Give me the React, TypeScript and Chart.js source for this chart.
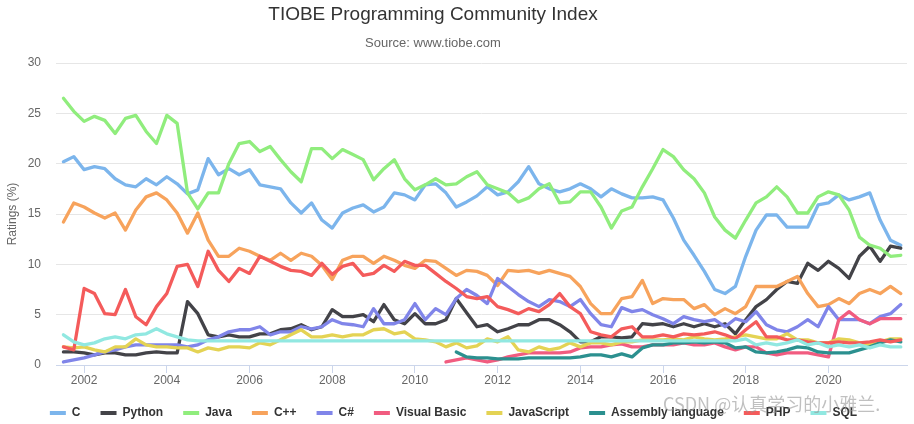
import React, { useEffect, useRef } from "react";
import { Chart, registerables, ChartConfiguration, Plugin } from "chart.js";

Chart.register(...registerables);
Chart.defaults.font.family = '"Liberation Sans", Arial, sans-serif';

const titleText = "TIOBE Programming Community Index";
const subtitleText = "Source: www.tiobe.com";
const watermarkText = "CSDN @认真学习的小雅兰.";

// quarterly sample dates (decimal years)
const quarters = [
  2001.5, 2001.75,
  2002, 2002.25, 2002.5, 2002.75,
  2003, 2003.25, 2003.5, 2003.75,
  2004, 2004.25, 2004.5, 2004.75,
  2005, 2005.25, 2005.5, 2005.75,
  2006, 2006.25, 2006.5, 2006.75,
  2007, 2007.25, 2007.5, 2007.75,
  2008, 2008.25, 2008.5, 2008.75,
  2009, 2009.25, 2009.5, 2009.75,
  2010, 2010.25, 2010.5, 2010.75,
  2011, 2011.25, 2011.5, 2011.75,
  2012, 2012.25, 2012.5, 2012.75,
  2013, 2013.25, 2013.5, 2013.75,
  2014, 2014.25, 2014.5, 2014.75,
  2015, 2015.25, 2015.5, 2015.75,
  2016, 2016.25, 2016.5, 2016.75,
  2017, 2017.25, 2017.5, 2017.75,
  2018, 2018.25, 2018.5, 2018.75,
  2019, 2019.25, 2019.5, 2019.75,
  2020, 2020.25, 2020.5, 2020.75,
  2021, 2021.25, 2021.5, 2021.75,
];

const xTicks = [2002, 2004, 2006, 2008, 2010, 2012, 2014, 2016, 2018, 2020];
const yTicks = [0, 5, 10, 15, 20, 25, 30];

const cValues = [
  20.2, 20.7,
  19.4, 19.7, 19.5, 18.5,
  17.9, 17.7, 18.5, 17.9,
  18.7, 18.0, 17.0, 17.4,
  20.5, 18.9, 19.5, 18.9,
  19.4, 17.9, 17.7, 17.5,
  16.1, 15.1, 16.1, 14.4,
  13.6, 15.1, 15.6, 15.9,
  15.2, 15.7, 17.1, 16.9,
  16.4, 17.9, 18.0, 17.1,
  15.7, 16.2, 16.8, 17.7,
  16.9, 17.2, 18.2, 19.7,
  18.0, 17.5, 17.2, 17.5,
  18.0, 17.5, 16.7, 17.5,
  17.0, 16.6, 16.6, 16.7,
  16.4, 14.6, 12.4, 10.9,
  9.3, 7.5, 7.1, 7.8,
  10.8, 13.4, 14.9, 14.9,
  13.7, 13.7, 13.7, 15.9,
  16.1, 16.9, 16.4, 16.7,
  17.1, 14.4, 12.4, 11.9,
];

const pythonValues = [
  1.3, 1.3,
  1.2, 1.0, 1.2, 1.2,
  1.0, 1.0, 1.2, 1.3,
  1.2, 1.2, 6.3, 5.1,
  3.0, 2.8, 3.0, 2.8,
  2.8, 3.1, 3.1, 3.5,
  3.6, 4.0, 3.5, 3.8,
  5.5, 4.8, 4.8, 5.0,
  4.3, 6.0, 4.5, 4.1,
  5.1, 4.1, 4.1, 4.5,
  6.6, 5.2, 3.8, 4.0,
  3.3, 3.6, 4.0, 4.0,
  4.5, 4.5, 4.0, 3.3,
  2.3, 2.3, 2.8, 2.8,
  2.7, 2.8, 4.1, 4.0,
  4.1, 3.8, 4.1, 3.8,
  4.1, 3.8, 4.1, 3.1,
  4.5, 5.8, 6.5, 7.5,
  8.3, 8.1, 10.1, 9.4,
  10.3, 9.6, 8.6, 10.8,
  11.8, 10.3, 11.8, 11.6,
];

const javaValues = [
  26.5, 25.2,
  24.2, 24.7, 24.3, 23.0,
  24.5, 24.8, 23.2, 22.0,
  24.8, 24.0, 17.1, 15.5,
  17.1, 17.1, 20.0, 22.0,
  22.2, 21.2, 21.7, 20.4,
  19.2, 18.2, 21.5, 21.5,
  20.5, 21.4, 20.9, 20.4,
  18.4, 19.5, 20.4, 18.5,
  17.4, 17.9, 18.5, 17.9,
  18.0, 18.7, 19.2, 17.9,
  17.5, 17.1, 16.2, 16.6,
  17.5, 18.0, 16.1, 16.2,
  17.2, 17.2, 15.7, 13.6,
  15.3, 15.7, 17.7, 19.5,
  21.4, 20.7, 19.4, 18.5,
  17.1, 14.7, 13.4, 12.6,
  14.4, 16.1, 16.7, 17.7,
  16.7, 15.1, 15.1, 16.7,
  17.2, 16.9, 15.4, 12.7,
  11.9, 11.6, 10.8, 10.9,
];

const cppValues = [
  14.2, 16.1,
  15.7, 15.1, 14.6, 15.1,
  13.4, 15.4, 16.7, 17.1,
  16.4, 15.1, 13.1, 15.1,
  12.4, 10.8, 10.8, 11.6,
  11.3, 10.8, 10.4, 11.1,
  10.4, 11.1, 10.8, 9.9,
  8.5, 10.4, 10.8, 10.8,
  10.1, 10.8, 10.4, 9.9,
  9.6, 10.4, 10.3, 9.6,
  8.9, 9.4, 9.3, 8.9,
  7.9, 9.4, 9.3, 9.4,
  9.1, 9.4, 9.1, 8.8,
  7.8, 6.1, 5.1, 5.1,
  6.6, 6.8, 8.4, 6.1,
  6.6, 6.5, 6.5, 5.6,
  6.0, 5.0, 5.6, 5.1,
  5.8, 7.8, 7.8, 7.8,
  8.3, 8.8, 7.1, 5.8,
  6.0, 6.6, 6.1, 7.1,
  7.5, 7.1, 7.8, 7.1,
];

const csharpValues = [
  0.3, 0.5,
  0.7, 1.0, 1.3, 1.5,
  1.8, 2.0, 2.0, 2.0,
  2.0, 2.0, 1.8, 2.0,
  2.5, 2.8, 3.3, 3.5,
  3.5, 3.8, 3.0, 3.3,
  3.3, 3.8, 3.6, 3.8,
  4.5, 4.1, 4.0, 3.8,
  5.6, 4.1, 4.1, 4.5,
  6.1, 4.5, 5.6, 5.0,
  6.6, 7.5, 6.9, 6.1,
  8.6, 7.8, 7.0, 6.3,
  5.8, 6.5, 6.3, 5.8,
  6.5, 5.1, 4.0, 3.8,
  5.7, 5.3, 5.5, 5.0,
  4.6, 4.1, 4.8, 4.5,
  4.3, 4.5, 3.8, 4.6,
  4.3, 5.3, 4.0, 3.5,
  3.3, 3.8, 4.5, 3.8,
  5.8, 4.5, 4.5, 4.5,
  4.1, 4.8, 5.1, 6.0,
];

const vbValues = [
  null, null,
  null, null, null, null,
  null, null, null, null,
  null, null, null, null,
  null, null, null, null,
  null, null, null, null,
  null, null, null, null,
  null, null, null, null,
  null, null, null, null,
  null, null, null, 0.3,
  0.5, 0.7, 0.5, 0.3,
  0.5, 0.8, 1.0, 1.2,
  1.2, 1.2, 1.2, 1.3,
  1.7, 1.8, 1.8, 2.0,
  2.1, 1.8, 1.8, 2.0,
  2.0, 2.0, 2.2, 2.0,
  2.0, 2.2, 1.8, 1.5,
  1.8, 1.8, 1.2, 1.0,
  1.2, 1.2, 1.2, 1.0,
  0.8, 4.5, 5.3, 4.5,
  4.1, 4.6, 4.6, 4.6,
];

const jsValues = [
  1.8, 1.7,
  1.8, 1.5, 1.3, 1.8,
  1.8, 2.6, 2.0, 1.8,
  1.8, 1.7, 1.7, 1.3,
  1.7, 1.5, 1.8, 1.8,
  1.7, 2.2, 2.0, 2.5,
  3.0, 3.5, 2.8, 2.8,
  3.0, 2.8, 3.0, 3.0,
  3.5, 3.6, 3.1, 3.3,
  2.6, 2.5, 2.3, 1.8,
  2.2, 1.7, 1.9, 2.6,
  2.3, 2.8, 1.5, 1.3,
  1.8, 1.5, 1.7, 2.2,
  1.8, 2.2, 2.2, 2.0,
  2.3, 2.3, 2.5, 2.5,
  2.5, 2.6, 2.5, 2.8,
  2.6, 2.5, 2.6, 2.8,
  3.0, 2.8, 2.6, 2.6,
  3.1, 2.5, 2.5, 2.2,
  2.2, 2.6, 2.5, 2.2,
  2.0, 2.3, 2.6, 2.6,
];

const asmValues = [
  null, null,
  null, null, null, null,
  null, null, null, null,
  null, null, null, null,
  null, null, null, null,
  null, null, null, null,
  null, null, null, null,
  null, null, null, null,
  null, null, null, null,
  null, null, null, null,
  1.3, 0.8, 0.7, 0.7,
  0.6, 0.6, 0.6, 0.7,
  0.7, 0.7, 0.7, 0.7,
  0.8, 1.0, 1.0, 0.8,
  1.1, 0.8, 1.7, 2.0,
  2.0, 2.2, 2.2, 2.3,
  2.2, 2.3, 2.2, 1.7,
  1.8, 1.3, 1.2, 1.3,
  1.5, 1.8, 1.7, 1.3,
  1.2, 1.2, 1.2, 1.5,
  1.8, 2.2, 2.5, 2.3,
];

const phpValues = [
  1.8, 1.5,
  7.6, 7.1, 5.1, 5.0,
  7.5, 4.8, 4.0, 5.8,
  7.1, 9.8, 10.0, 7.8,
  11.3, 9.4, 8.3, 9.6,
  9.1, 10.8, 10.3, 9.8,
  9.4, 9.3, 8.9, 10.1,
  9.0, 9.8, 10.1, 8.9,
  9.1, 9.9, 9.3, 10.3,
  9.9, 9.9, 9.1, 8.3,
  7.6, 6.8, 6.6, 6.8,
  5.8, 5.5, 5.1, 5.6,
  5.3, 6.0, 7.1, 5.8,
  5.1, 3.3, 3.0, 2.8,
  3.6, 3.8, 2.8, 2.8,
  3.0, 2.8, 3.1, 3.0,
  3.1, 3.3, 3.0, 2.6,
  3.5, 4.3, 2.8, 2.8,
  2.5, 2.5, 2.3, 2.2,
  2.2, 2.3, 2.2, 2.2,
  2.3, 2.5, 2.3, 2.5,
];

const sqlValues = [
  3.0, 2.3,
  2.0, 2.2, 2.6, 2.8,
  2.6, 3.0, 3.1, 3.6,
  3.1, 2.8, 2.5, 2.4,
  2.4, 2.4, 2.4, 2.4,
  2.4, 2.4, 2.4, 2.4,
  2.4, 2.4, 2.4, 2.4,
  2.4, 2.4, 2.4, 2.4,
  2.4, 2.4, 2.4, 2.4,
  2.4, 2.4, 2.4, 2.4,
  2.4, 2.4, 2.4, 2.4,
  2.4, 2.4, 2.4, 2.4,
  2.4, 2.4, 2.4, 2.4,
  2.4, 2.4, 2.4, 2.4,
  2.4, 2.4, 2.4, 2.4,
  2.4, 2.4, 2.4, 2.4,
  2.4, 2.4, 2.4, 2.4,
  2.6, 2.0, 2.2, 2.0,
  2.2, 2.5, 2.0, 2.2,
  1.8, 2.0, 1.8, 2.0,
  1.7, 2.0, 1.8, 1.8,
];

const seriesNames = [
  "C", "Python", "Java", "C++", "C#", "Visual Basic",
  "JavaScript", "Assembly language", "PHP", "SQL",
];
const seriesValues = [
  cValues, pythonValues, javaValues, cppValues, csharpValues, vbValues,
  jsValues, asmValues, phpValues, sqlValues,
];
const seriesColors = [
  "#7cb5ec", "#434348", "#90ed7d", "#f7a35c", "#8085e9", "#f15c80",
  "#e4d354", "#2b908f", "#f45b5b", "#91e8e1",
];

/** Title, subtitle and the watermark, placed like the original. */
const headerPlugin: Plugin = {
  id: "header",
  afterDraw(chart) {
    const ctx = chart.ctx;
    ctx.save();
    ctx.textAlign = "center";
    ctx.textBaseline = "middle";
    ctx.fillStyle = "#333333";
    ctx.font = '19px "Liberation Sans", Arial, sans-serif';
    ctx.fillText(titleText, 433, 15);
    ctx.fillStyle = "#666666";
    ctx.font = '13px "Liberation Sans", Arial, sans-serif';
    ctx.fillText(subtitleText, 433, 43);
    ctx.textAlign = "left";
    ctx.fillStyle = "rgba(150, 150, 150, 0.6)";
    ctx.font = '18px "Noto Sans CJK SC", sans-serif';
    ctx.fillText(watermarkText, 663, 404);
    ctx.restore();
  },
};

function makeConfig(): ChartConfiguration {
  return {
    type: "line",
    data: {
      datasets: seriesNames.map((name, i) => ({
        label: name,
        data: quarters.map((x, j) => ({ x, y: seriesValues[i][j] })),
        borderColor: seriesColors[i],
        backgroundColor: seriesColors[i],
        borderWidth: 3.3,
        borderJoinStyle: "round",
        borderCapStyle: "round",
        pointRadius: 0,
        tension: 0,
        fill: false,
        order: seriesNames.length - i,
      })) as any,
    },
    options: {
      responsive: false,
      animation: false,
      events: [],
      layout: { padding: { top: 63, right: 7, bottom: -5, left: 0 } },
      scales: {
        x: {
          type: "linear",
          min: 2001.32,
          max: 2021.9,
          afterBuildTicks: (s: any) => { s.ticks = xTicks.map((v) => ({ value: v })); },
          afterFit: (s: any) => { s.height = 22; },
          grid: { drawOnChartArea: false, drawTicks: true, tickLength: 8, color: "#ccd6eb" },
          border: { color: "#ccd6eb" },
          ticks: {
            color: "#666666",
            font: { size: 12 },
            padding: 0,
            maxRotation: 0,
            callback: (v: any) => String(v),
          },
        },
        y: {
          min: 0,
          max: 30,
          afterBuildTicks: (s: any) => { s.ticks = yTicks.map((v) => ({ value: v })); },
          afterFit: (s: any) => { s.width = 56; },
          grid: { color: "#e6e6e6", drawTicks: false },
          border: { display: false },
          ticks: { color: "#666666", font: { size: 12 }, padding: 15 },
          title: {
            display: true,
            text: "Ratings (%)",
            color: "#666666",
            font: { size: 12 },
            padding: { top: 5, bottom: 0 },
          },
        },
      },
      plugins: {
        tooltip: { enabled: false },
        title: { display: false },
        legend: {
          position: "bottom",
          labels: {
            boxWidth: 16,
            boxHeight: 4,
            padding: 20,
            color: "#333333",
            font: { size: 12, weight: "bold" },
            sort: (a: any, b: any) => a.datasetIndex - b.datasetIndex,
            generateLabels: (chart: Chart) =>
              Chart.defaults.plugins.legend.labels.generateLabels(chart)
                .map((item) => ({ ...item, lineWidth: 0 })),
          },
        },
      },
    },
    plugins: [headerPlugin],
  };
}

export default function App() {
  const canvas = useRef<HTMLCanvasElement>(null);
  useEffect(() => {
    const chart = new Chart(canvas.current!.getContext("2d")!, makeConfig());
    return () => {
      chart.destroy();
    };
  }, []);

  return (
    <div style={{ position: "absolute", left: 0, top: 0, width: 914, height: 424, background: "#ffffff" }}>
      <canvas ref={canvas} width={914} height={424} />
    </div>
  );
}
